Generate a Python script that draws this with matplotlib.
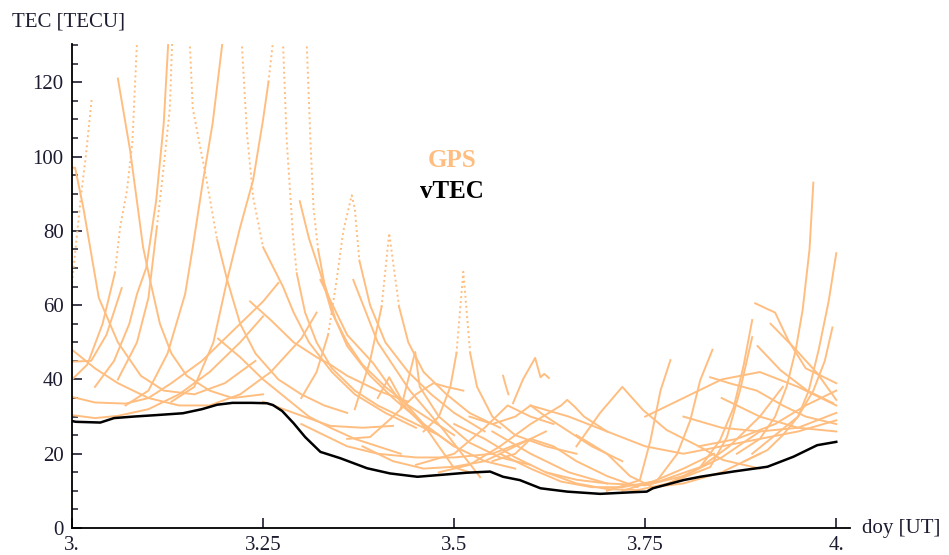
import matplotlib.pyplot as plt
from matplotlib.ticker import MultipleLocator, FixedLocator

# vertical TEC over the station
vtec_doy = [3.0, 3.005, 3.037, 3.055, 3.08, 3.11, 3.145, 3.17, 3.19, 3.21, 3.235, 3.255,
            3.263, 3.275, 3.29, 3.305, 3.325, 3.351, 3.386, 3.416, 3.452, 3.482, 3.517,
            3.547, 3.564, 3.586, 3.613, 3.648, 3.691, 3.73, 3.752, 3.76, 3.8, 3.822,
            3.865, 3.91, 3.944, 3.975, 4.0]
vtec = [28.8, 28.6, 28.4, 29.6, 30.0, 30.4, 30.9, 32.0, 33.2, 33.7, 33.7, 33.6,
        33.1, 31.5, 28.2, 24.5, 20.5, 18.8, 16.1, 14.7, 13.8, 14.3, 14.9,
        15.2, 13.8, 12.9, 10.7, 9.8, 9.2, 9.6, 9.8, 10.7, 12.9, 13.8,
        15.2, 16.5, 19.2, 22.3, 23.2]

# slant TEC, one list of (doy, TEC) points per GPS satellite pass
gps_morning = [
    [(3.0, 97), (3.004, 97), (3.015, 86), (3.035, 62), (3.06, 50), (3.09, 41), (3.12, 37), (3.16, 36), (3.2, 39), (3.24, 45)],
    [(3.0, 48), (3.03, 43), (3.06, 39), (3.1, 35), (3.14, 33), (3.18, 33), (3.22, 36), (3.26, 42), (3.3, 51), (3.32, 58)],
    [(3.0, 44.8), (3.025, 45), (3.045, 52), (3.065, 64.6)],
    [(3.0, 35.3), (3.03, 33.8), (3.07, 33.5), (3.1, 35), (3.13, 39), (3.17, 45), (3.21, 53), (3.25, 61), (3.27, 66)],
    [(3.0, 30.4), (3.03, 29.6), (3.06, 30.2), (3.1, 32), (3.14, 36), (3.18, 42), (3.22, 50), (3.25, 57)],
    [(3.0, 40), (3.02, 44), (3.04, 55), (3.056, 68.6)],
    [(3.06, 121), (3.076, 101.7), (3.093, 75.6), (3.102, 66.8), (3.115, 55), (3.13, 47), (3.15, 41), (3.18, 37), (3.21, 35), (3.25, 36)],
    [(3.03, 38), (3.055, 45), (3.075, 55), (3.085, 63), (3.097, 70), (3.11, 88), (3.12, 109), (3.126, 131)],
    [(3.06, 40), (3.085, 50), (3.1, 62), (3.111, 81)],
    [(3.19, 77.5), (3.203, 66.8), (3.22, 55), (3.24, 47), (3.27, 40), (3.3, 36), (3.33, 33), (3.36, 31)],
    [(3.07, 33), (3.1, 37), (3.125, 47), (3.148, 63), (3.158, 75.6), (3.171, 93), (3.184, 109), (3.197, 131)],
    [(3.25, 75.6), (3.276, 65), (3.29, 58), (3.31, 50), (3.34, 42), (3.37, 36), (3.41, 31), (3.45, 27)],
    [(3.13, 34), (3.16, 38), (3.185, 50), (3.203, 66.8), (3.22, 81), (3.237, 93.7), (3.25, 110), (3.257, 120)],
    [(3.294, 68.6), (3.305, 58), (3.32, 50), (3.34, 43), (3.37, 37), (3.4, 33), (3.44, 29), (3.48, 25)],
    [(3.322, 75), (3.33, 66), (3.345, 56), (3.36, 49), (3.39, 41), (3.42, 35), (3.46, 28), (3.5, 22)],
    [(3.298, 88), (3.31, 78), (3.325, 68.6), (3.34, 58), (3.36, 50), (3.38, 44), (3.41, 38), (3.44, 33), (3.47, 29), (3.5, 25)],
    [(3.233, 61), (3.26, 56), (3.29, 50), (3.32, 46), (3.338, 44), (3.36, 41), (3.4, 37), (3.44, 34)],
    [(3.191, 51), (3.22, 46), (3.25, 40), (3.28, 35), (3.31, 30), (3.338, 27), (3.37, 24), (3.4, 22), (3.43, 20)],
    [(3.25, 34), (3.29, 31), (3.338, 27.5), (3.38, 27), (3.42, 27.5)],
]

gps_midday = [
    [(3.3, 35), (3.32, 42), (3.335, 52)],
    [(3.376, 72), (3.39, 60), (3.41, 50), (3.44, 42), (3.47, 36), (3.5, 31), (3.54, 26)],
    [(3.37, 32), (3.39, 45), (3.405, 59.5)],
    [(3.428, 59.5), (3.44, 50), (3.46, 42), (3.49, 36), (3.52, 31), (3.56, 27)],
    [(3.46, 26), (3.48, 30), (3.495, 38), (3.503, 47)],
    [(3.521, 47), (3.53, 38), (3.55, 30), (3.58, 25), (3.62, 22), (3.66, 20)],
    [(3.564, 41), (3.568, 38), (3.571, 36)],
    [(3.577, 33.6), (3.59, 40), (3.606, 45.8), (3.613, 40.6), (3.618, 41.5), (3.624, 40.4)],
    [(3.36, 24), (3.39, 24.5), (3.42, 30), (3.45, 36), (3.473, 39), (3.49, 38), (3.512, 37)],
    [(3.3, 28), (3.33, 25), (3.36, 22), (3.4, 20), (3.45, 19), (3.5, 19), (3.55, 20), (3.6, 24)],
    [(3.4, 35), (3.415, 40.6), (3.43, 35), (3.46, 28), (3.5, 22), (3.54, 18), (3.58, 16)],
    [(3.43, 32), (3.449, 47.4), (3.455, 38), (3.48, 30), (3.52, 23), (3.56, 19), (3.6, 17)],
    [(3.325, 66.8), (3.36, 52), (3.394, 44.4), (3.43, 34), (3.465, 26.4), (3.499, 16.4), (3.52, 15)],
    [(3.368, 66.8), (3.4, 50), (3.442, 37), (3.486, 26.4), (3.534, 13.7)],
    [(3.45, 17), (3.5, 20), (3.54, 27), (3.57, 33), (3.6, 30), (3.63, 28)],
    [(3.48, 15), (3.52, 17), (3.56, 22), (3.6, 28), (3.64, 33), (3.648, 34.5), (3.658, 32.6), (3.67, 30), (3.7, 26)],
    [(3.52, 30), (3.55, 28), (3.58, 30), (3.6, 33), (3.62, 30), (3.65, 26), (3.68, 22), (3.72, 18)],
    [(3.55, 18), (3.58, 20), (3.6, 24), (3.63, 22), (3.66, 18), (3.7, 14), (3.74, 11)],
    [(3.55, 26), (3.6, 20), (3.65, 15), (3.7, 12), (3.75, 11.5), (3.8, 14), (3.85, 19), (3.9, 26)],
    [(3.38, 22), (3.42, 18), (3.46, 16), (3.5, 16.5), (3.54, 18), (3.58, 22), (3.62, 26)],
    [(3.56, 20), (3.6, 16), (3.64, 12.5), (3.68, 11), (3.72, 11), (3.76, 12.5), (3.8, 16), (3.84, 20)],
    [(3.5, 28), (3.54, 24), (3.58, 19), (3.62, 15), (3.66, 13), (3.7, 12)],
]

gps_evening = [
    [(3.66, 22), (3.691, 31), (3.72, 38), (3.747, 31.8), (3.778, 26.4), (3.822, 21.8), (3.852, 18.3), (3.9, 16)],
    [(3.7, 10), (3.743, 12.9), (3.757, 23.7), (3.77, 37), (3.783, 45.2)],
    [(3.72, 10), (3.766, 12.9), (3.792, 20), (3.809, 29), (3.822, 39.8), (3.838, 48)],
    [(3.76, 12), (3.822, 16.4), (3.848, 23.7), (3.866, 32.6), (3.879, 44), (3.89, 56)],
    [(3.78, 12), (3.835, 16.4), (3.857, 24.5), (3.874, 37), (3.89, 51.4)],
    [(3.835, 40.6), (3.86, 39), (3.896, 37), (3.93, 33), (3.96, 30), (4.0, 28)],
    [(3.87, 20), (3.9, 24), (3.92, 30), (3.935, 38), (3.947, 48), (3.956, 58.7), (3.965, 75), (3.97, 93)],
    [(3.88, 18), (3.91, 21), (3.93, 25), (3.95, 30), (3.964, 37), (3.977, 48), (3.99, 61), (4.0, 74)],
    [(3.89, 20), (3.92, 25), (3.95, 30), (3.97, 37), (3.985, 45), (3.995, 54)],
    [(3.894, 60.5), (3.92, 58), (3.937, 50.6), (3.96, 43), (4.0, 39)],
    [(3.914, 55), (3.944, 48.7), (3.975, 41.7), (4.0, 34.5)],
    [(3.897, 49), (3.927, 42.5), (3.962, 37), (3.996, 33.6)],
    [(3.8, 30), (3.85, 27), (3.9, 26), (3.95, 27), (4.0, 31)],
    [(3.85, 35), (3.9, 30), (3.95, 27), (4.0, 26)],
    [(3.75, 30), (3.8, 35), (3.85, 40), (3.9, 42), (3.95, 38), (4.0, 33)],
    [(3.6, 33), (3.65, 30), (3.7, 26), (3.75, 22), (3.8, 20), (3.85, 22), (3.9, 24), (3.95, 26), (4.0, 29)],
    [(3.66, 25), (3.7, 20), (3.73, 14), (3.76, 11), (3.8, 12), (3.85, 15), (3.9, 20)],
    [(3.62, 15), (3.66, 12), (3.7, 10.5), (3.74, 10.2), (3.78, 12), (3.82, 16), (3.86, 22), (3.9, 30), (3.93, 38)],
    [(3.82, 22), (3.87, 24), (3.92, 28), (3.96, 33), (4.0, 37)],
]

# steep low-elevation ends, sampled too sparsely to join up
gps_sparse = [
    [(3.0, 66), (3.004, 74), (3.012, 90), (3.018, 100), (3.026, 116)],
    [(3.056, 68.6), (3.063, 81), (3.072, 91), (3.079, 104), (3.085, 131)],
    [(3.111, 81), (3.119, 95.5), (3.128, 113), (3.131, 131)],
    [(3.154, 131), (3.158, 113), (3.176, 93.7), (3.19, 77.5)],
    [(3.222, 131), (3.229, 106), (3.237, 89), (3.25, 75.6)],
    [(3.257, 120), (3.263, 131)],
    [(3.276, 131), (3.281, 104), (3.289, 79), (3.294, 68.6)],
    [(3.307, 131), (3.312, 104), (3.316, 86), (3.322, 75)],
    [(3.335, 52), (3.345, 65), (3.355, 80), (3.366, 89.6), (3.37, 86), (3.376, 72)],
    [(3.405, 59.5), (3.415, 79.4), (3.428, 59.5)],
    [(3.503, 47), (3.512, 69), (3.521, 47)],
]

x_ticks = [3.0, 3.25, 3.5, 3.75, 4.0]
x_tick_labels = ['3.', '3.25', '3.5', '3.75', '4.']
y_ticks = [0, 20, 40, 60, 80, 100, 120]

gps_color = '#FFBE80'
text_color = '#1c1c30'
plt.rcParams['font.family'] = ['Liberation Serif', 'DejaVu Serif']

fig = plt.figure(figsize=(9.49, 5.55), dpi=100)
ax = fig.add_axes([0.0759, 0.0486, 0.8198, 0.872])

for group in (gps_morning, gps_midday, gps_evening):
    for arc in group:
        xs = [p[0] for p in arc]
        ys = [p[1] for p in arc]
        ax.plot(xs, ys, '-', color=gps_color, lw=1.4, solid_joinstyle='round')
for arc in gps_sparse:
    xs = [p[0] for p in arc]
    ys = [p[1] for p in arc]
    ax.plot(xs, ys, color=gps_color, lw=1.4, linestyle=(0, (1, 1.6)))

ax.plot(vtec_doy, vtec, '-', color='black', lw=1.8)

ax.set_xlim(3.0, 4.018)
ax.set_ylim(0, 130.3)
for side in ('top', 'right'):
    ax.spines[side].set_visible(False)
for side in ('left', 'bottom'):
    ax.spines[side].set_linewidth(1.3)

ax.xaxis.set_major_locator(FixedLocator(x_ticks))
ax.set_xticklabels(x_tick_labels)
ax.yaxis.set_major_locator(FixedLocator(y_ticks))
ax.yaxis.set_minor_locator(MultipleLocator(5))
ax.tick_params(axis='both', which='major', direction='in', length=7, width=1.2,
               labelsize=15, colors=text_color)
ax.tick_params(axis='y', which='minor', direction='in', length=4, width=1.1, color=text_color)
ax.tick_params(axis='x', which='major', pad=6)
ax.tick_params(axis='y', which='major', pad=6)

fig.text(0.013, 0.96, 'TEC [TECU]', fontsize=15, color=text_color, va='center', ha='left')
fig.text(0.908, 0.0486, 'doy [UT]', fontsize=15, color=text_color, va='center', ha='left')

ax.text(3.497, 99, 'GPS', fontsize=18, fontweight='bold', color=gps_color, ha='center', va='center')
ax.text(3.497, 90.5, 'vTEC', fontsize=18, fontweight='bold', color='black', ha='center', va='center')

fig.savefig('out.png', dpi=100)
